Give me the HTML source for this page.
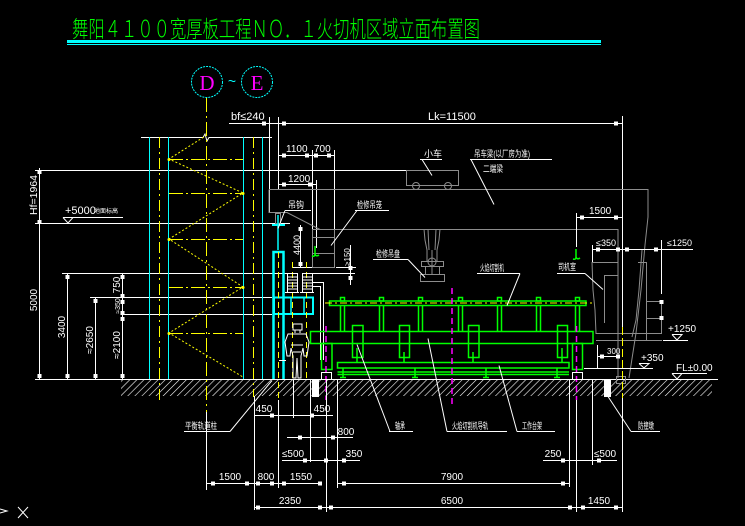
<!DOCTYPE html>
<html><head><meta charset="utf-8"><style>html,body{margin:0;padding:0;background:#000;width:745px;height:526px;overflow:hidden}svg{display:block}</style></head>
<body>
<svg width="745" height="526" viewBox="0 0 745 526" xmlns="http://www.w3.org/2000/svg" font-family="'Liberation Sans','Noto Sans CJK SC',sans-serif">
<defs>
<pattern id="hat" width="5" height="5" patternUnits="userSpaceOnUse" patternTransform="rotate(45)"><line x1="0" y1="0" x2="0" y2="5" stroke="#fff" stroke-width="1.2"/></pattern>
</defs>
<rect width="745" height="526" fill="#000"/>

<!-- Title -->
<text x="72" y="37" fill="#00ff00" font-size="23" font-family="'Liberation Sans','Noto Sans CJK SC',sans-serif" font-weight="300" textLength="408" lengthAdjust="spacingAndGlyphs">舞阳４１００宽厚板工程ＮＯ．１火切机区域立面布置图</text>
<rect x="67" y="40" width="534" height="3" fill="#00ffff"/>
<line x1="67" y1="44.5" x2="601" y2="44.5" stroke="#00ffff" stroke-width="1"/>

<!-- Axis circles -->
<circle cx="207" cy="82" r="15.5" fill="none" stroke="#00ffff" stroke-width="1" stroke-dasharray="2,1"/>
<circle cx="257" cy="82" r="15.5" fill="none" stroke="#00ffff" stroke-width="1" stroke-dasharray="2,1"/>
<text x="207" y="90" fill="#ff00ff" font-size="21" text-anchor="middle" font-family="'Liberation Serif',serif">D</text>
<text x="257" y="90" fill="#ff00ff" font-size="21" text-anchor="middle" font-family="'Liberation Serif',serif">E</text>
<text x="232" y="86" fill="#00ffff" font-size="14" text-anchor="middle">~</text>

<!-- Hatch ground -->
<rect x="121" y="380" width="591" height="16" fill="url(#hat)"/>
<line x1="35" y1="379.5" x2="718" y2="379.5" stroke="#fff"/>
<rect x="312" y="380" width="7" height="17" fill="#fff"/>
<rect x="604" y="380" width="7" height="17" fill="#fff"/>

<!-- Main white horizontals -->
<g stroke="#fff" stroke-width="1" fill="none">
<line x1="35" y1="170.5" x2="407" y2="170.5"/>
<line x1="35" y1="223.5" x2="290" y2="223.5"/>
<line x1="62" y1="273.5" x2="287" y2="273.5"/>
<line x1="312" y1="273.5" x2="355" y2="273.5"/>
<line x1="90" y1="297.5" x2="272" y2="297.5"/>
<line x1="122" y1="314.5" x2="272" y2="314.5"/>
<polyline points="141,137.5 203,137.5 205,134 207,141 209,137.5 272,137.5"/>
<line x1="229" y1="123.5" x2="622" y2="123.5"/>
<line x1="622.5" y1="116" x2="622.5" y2="327"/>
<line x1="269.5" y1="117" x2="269.5" y2="212"/>
<line x1="278.5" y1="117" x2="278.5" y2="190"/>
<line x1="278" y1="155.5" x2="335" y2="155.5"/>
<line x1="312.5" y1="150" x2="312.5" y2="229"/>
<line x1="334.5" y1="150" x2="334.5" y2="229"/>
<line x1="278" y1="184.5" x2="316" y2="184.5"/>
<line x1="316.5" y1="180" x2="316.5" y2="248"/>
<line x1="300.5" y1="225" x2="300.5" y2="267"/>
<line x1="292" y1="267.5" x2="318" y2="267.5"/>
<line x1="350.5" y1="245" x2="350.5" y2="285"/>
<line x1="336" y1="267.5" x2="356" y2="267.5"/>
<!-- left dims -->
<line x1="39.5" y1="168" x2="39.5" y2="379"/>
<line x1="67.5" y1="273" x2="67.5" y2="379"/>
<line x1="95.5" y1="297" x2="95.5" y2="379"/>
<line x1="122.5" y1="273" x2="122.5" y2="379"/>
<line x1="63" y1="217.5" x2="123" y2="217.5"/>
<polyline points="63,217.5 68,223 73,217.5"/>
</g>
<g fill="#fff">
<rect x="37.5" y="170" width="4" height="4"/><rect x="37.5" y="220" width="4" height="4"/><rect x="37.5" y="374" width="4" height="4"/>
<rect x="65.5" y="275" width="4" height="4"/><rect x="65.5" y="374" width="4" height="4"/>
<rect x="93.5" y="299" width="4" height="4"/><rect x="93.5" y="374" width="4" height="4"/>
<rect x="120.5" y="275" width="4" height="4"/><rect x="120.5" y="294" width="4" height="4"/><rect x="120.5" y="300" width="4" height="4"/><rect x="120.5" y="311" width="4" height="4"/><rect x="120.5" y="317" width="4" height="4"/><rect x="120.5" y="374" width="4" height="4"/>
<rect x="262" y="121.5" width="4" height="4"/><rect x="282" y="121.5" width="4" height="4"/><rect x="614" y="121.5" width="4" height="4"/>
<rect x="282" y="153.5" width="4" height="4"/><rect x="305" y="153.5" width="4" height="4"/><rect x="314" y="153.5" width="4" height="4"/><rect x="327" y="153.5" width="4" height="4"/>
<rect x="282" y="182.5" width="4" height="4"/><rect x="308" y="182.5" width="4" height="4"/>
<rect x="298.5" y="227" width="4" height="4"/><rect x="298.5" y="262" width="4" height="4"/>
<rect x="348.5" y="266" width="4" height="4"/><rect x="348.5" y="276" width="4" height="4"/>
</g>
<g fill="#fff" font-size="10">
<text transform="translate(37,195) rotate(-90)" text-anchor="middle" textLength="40" lengthAdjust="spacingAndGlyphs">Hf=1964</text>
<text transform="translate(37,300) rotate(-90)" text-anchor="middle">5000</text>
<text transform="translate(65,327) rotate(-90)" text-anchor="middle">3400</text>
<text transform="translate(93,340) rotate(-90)" text-anchor="middle">≈2650</text>
<text transform="translate(120,285) rotate(-90)" text-anchor="middle">750</text>
<text transform="translate(120,306) rotate(-90)" text-anchor="middle" font-size="7">≈350</text>
<text transform="translate(120,345) rotate(-90)" text-anchor="middle">≈2100</text>
<text transform="translate(300,245) rotate(-90)" text-anchor="middle" font-size="9">4400</text>
<text transform="translate(350,257) rotate(-90)" text-anchor="middle" font-size="8">≥150</text>
<text x="65" y="214" font-size="11">+5000</text>
<text x="94" y="213" font-size="6">地面标高</text>
<text x="231" y="120" font-size="11">bf≤240</text>
<text x="428" y="120" font-size="11">Lk=11500</text>
<text x="286" y="152">1100</text>
<text x="314" y="152">700</text>
<text x="288" y="182">1200</text>
<text x="589" y="214">1500</text>
<text x="596" y="246" font-size="9">≤350</text>
<text x="667" y="246" font-size="9">≤1250</text>
<text x="668" y="332">+1250</text>
<text x="641" y="361">+350</text>
<text x="676" y="371">FL±0.00</text>
<text x="607" y="354" font-size="8">300</text>
</g>

<!-- Building column -->
<g stroke="#00ffff" stroke-width="1">
<line x1="149.5" y1="137" x2="149.5" y2="379"/>
<line x1="168.5" y1="137" x2="168.5" y2="379"/>
<line x1="243.5" y1="137" x2="243.5" y2="379"/>
<line x1="262.5" y1="137" x2="262.5" y2="379"/>
</g>
<g stroke="#ffff00" stroke-width="1" fill="none">
<line x1="159.5" y1="137" x2="159.5" y2="402" stroke-dasharray="11,4,2,4"/>
<line x1="253.5" y1="137" x2="253.5" y2="397" stroke-dasharray="11,4,2,4"/>
<line x1="206.5" y1="98" x2="206.5" y2="412" stroke-dasharray="14,4,2,4"/>
<polyline points="207,135 169,159 243,193 169,239 243,287 169,333 243,377" stroke-dasharray="2,2"/>
<g stroke-dasharray="14,3,2,3">
<line x1="169" y1="159.5" x2="243" y2="159.5"/>
<line x1="169" y1="193.5" x2="243" y2="193.5"/>
<line x1="169" y1="239.5" x2="243" y2="239.5"/>
<line x1="169" y1="287.5" x2="243" y2="287.5"/>
<line x1="169" y1="333.5" x2="243" y2="333.5"/>
</g>
</g>
<g fill="#ffff00"><circle cx="169" cy="159.5" r="1.5"/><circle cx="243" cy="193.5" r="1.5"/><circle cx="169" cy="239.5" r="1.5"/><circle cx="243" cy="287.5" r="1.5"/><circle cx="169" cy="333.5" r="1.5"/></g>

<!-- Crane (gray) -->
<g stroke="#8c8c8c" stroke-width="1" fill="none">
<polyline points="269,189.5 648,189.5 648,217 645,245 641,290 636,333 629,378"/>
<polyline points="642,250 639,290 636,320 632,337"/>
<polyline points="269,189.5 269,212.5 287,212.5 320,229.5 618,229.5 618,378"/>
<rect x="312.5" y="229.5" width="22" height="38"/>
<line x1="312" y1="237.5" x2="335" y2="237.5"/>
<line x1="312" y1="253.5" x2="335" y2="253.5"/>
<rect x="275.5" y="213.5" width="5" height="10"/>
<rect x="406.5" y="170.5" width="52" height="15"/>
<circle cx="416" cy="186" r="3.5"/>
<circle cx="448" cy="186" r="3.5"/>
<polyline points="424,229 425,240 427,250 427,262"/>
<polyline points="440,229 439,240 437,250 437,262"/>
<polyline points="428,229 429,250"/><polyline points="436,229 435,250"/>
<circle cx="432" cy="262" r="4"/>
<line x1="432" y1="250" x2="432" y2="274"/>
<rect x="421.5" y="261.5" width="22" height="5"/>
<rect x="420.5" y="274.5" width="24" height="7"/>
<line x1="425.5" y1="266" x2="425.5" y2="274"/><line x1="439.5" y1="266" x2="439.5" y2="274"/>
<polyline points="592,262.5 618,262.5"/>
<polyline points="592,262 593,290 595,310 596,333.5 618,333.5"/>
<polyline points="604.5,323 604.5,275.5 618,275.5"/>
<line x1="596" y1="333.5" x2="662" y2="333.5"/>
<line x1="596" y1="340.5" x2="662" y2="340.5"/>
<polyline points="638,262.5 646.5,262.5 646.5,340"/>
<line x1="646" y1="301.5" x2="662" y2="301.5"/>
<line x1="646" y1="318.5" x2="662" y2="318.5"/>
<line x1="661.5" y1="301" x2="661.5" y2="334"/>
<rect x="616.5" y="376.5" width="9" height="7"/>
</g>
<g stroke="#fff" stroke-width="1" fill="none">
<line x1="576.5" y1="213" x2="576.5" y2="247"/>
<line x1="576" y1="217.5" x2="622" y2="217.5"/>
<line x1="592.5" y1="245" x2="592.5" y2="262"/>
<line x1="592" y1="249.5" x2="693" y2="249.5"/>
<line x1="661.5" y1="240" x2="661.5" y2="294"/>
<line x1="663" y1="340.5" x2="688" y2="340.5"/>
<polyline points="672,334.5 677,340 682,334.5 672,334.5"/>
<line x1="584" y1="368.5" x2="653" y2="368.5"/>
<polyline points="639,363.5 644,368 649,363.5 639,363.5"/>
<line x1="672" y1="373.5" x2="707" y2="373.5"/>
<polyline points="672,373.5 677,379 682,373.5"/>
<line x1="597.5" y1="345" x2="597.5" y2="368"/>
<line x1="597" y1="356.5" x2="618" y2="356.5"/>
</g>
<g fill="#fff">
<rect x="580" y="215.5" width="4" height="4"/><rect x="614" y="215.5" width="4" height="4"/>
<rect x="596" y="247.5" width="4" height="4"/><rect x="616" y="247.5" width="4" height="4"/><rect x="625" y="247.5" width="4" height="4"/><rect x="654" y="247.5" width="4" height="4"/>
<rect x="600" y="354.5" width="4" height="4"/><rect x="616" y="354.5" width="4" height="4"/>
<rect x="659.5" y="300" width="4" height="4"/><rect x="659.5" y="316" width="4" height="4"/>
</g>
<line x1="622.5" y1="327" x2="622.5" y2="398" stroke="#ffff00" stroke-dasharray="8,3"/>

<!-- Green hooks -->
<g stroke="#00ff00" stroke-width="1.5" fill="none">
<path d="M315,246 v8 q0,3 -3,2 M315,254 q1,3 4,1"/>
<path d="M576,249 v8 q0,3 -3,2 M576,257 q1,3 4,1"/>
</g>

<!-- Lift/cyan structure -->
<g stroke="#00ffff" fill="none">
<line x1="278" y1="215" x2="278" y2="250" stroke-width="1.5"/>
<line x1="272" y1="225" x2="285" y2="225" stroke-width="2"/>
<path d="M273.5,379 V252 H283.5 V379" stroke-width="2.5"/>
<rect x="274" y="297.5" width="39" height="16.5" stroke-width="2"/>
<line x1="291" y1="297" x2="291" y2="314" stroke-width="1.5"/>
<line x1="304" y1="297" x2="304" y2="314" stroke-width="1.5"/>
</g>
<g stroke="#ffff00" fill="none" stroke-dasharray="6,4">
<line x1="278.5" y1="252" x2="278.5" y2="400"/>
<line x1="292.5" y1="262" x2="292.5" y2="378"/>
<line x1="306.5" y1="262" x2="306.5" y2="378"/>
</g>
<g stroke="#fff" fill="none" stroke-width="1">
<rect x="287.5" y="273.5" width="10" height="19"/>
<rect x="302.5" y="273.5" width="10" height="19"/>
<path d="M288,277h9M288,280h9M288,283h9M288,286h9M288,289h9M303,277h9M303,280h9M303,283h9M303,286h9M303,289h9"/>
<path d="M285,292.5h14M300,292.5h14"/>
<polyline points="313,282.5 323.5,282.5 323.5,360"/>
<polyline points="313,286.5 320.5,286.5 320.5,360"/>
<!-- person -->
<path d="M293,324 h9 v6 h-9 z M295,330 v3 M300,330 v3 M288,334 h18 l3,8 l-2,14 h-3 l-1,-8 l-2,8 v22 h-3 l-1,-20 l-1,20 h-3 v-22 l-2,-8 l-1,8 h-3 l-2,-14 z M291,345 h12 M293,352 h8"/>
<line x1="279" y1="360.5" x2="286" y2="360.5"/>
</g>

<!-- Machine (green) -->
<g stroke="#00ff00" stroke-width="1.5" fill="none">
<rect x="329.5" y="301" width="256.5" height="4.5"/>
<g>
<rect x="340.5" y="297.5" width="4" height="3.5"/><rect x="379.5" y="297.5" width="4" height="3.5"/><rect x="418.5" y="297.5" width="4" height="3.5"/><rect x="458.5" y="297.5" width="4" height="3.5"/><rect x="497.5" y="297.5" width="4" height="3.5"/><rect x="536.5" y="297.5" width="4" height="3.5"/><rect x="575.5" y="297.5" width="4" height="3.5"/>
</g>
<path d="M340.5,305v26M344.5,305v26M379.5,305v26M383.5,305v26M418.5,305v26M422.5,305v26M458.5,305v26M462.5,305v26M497.5,305v26M501.5,305v26M536.5,305v26M540.5,305v26M575.5,305v26M579.5,305v26"/>
<rect x="310.5" y="331.5" width="282.5" height="12"/>
<rect x="352.5" y="325.5" width="10.5" height="32"/>
<rect x="399.5" y="325.5" width="10" height="32"/>
<rect x="468.5" y="325.5" width="10.5" height="32"/>
<rect x="557.5" y="325.5" width="10" height="32"/>
<rect x="321.5" y="343.5" width="10.5" height="26"/>
<rect x="572.5" y="343.5" width="10" height="26"/>
<rect x="337.5" y="362.5" width="231.5" height="5.5"/>
<path d="M337.5,372h231.5M337.5,374.5h231.5"/>
<path d="M404,352v10M473,352v10M357,348v14M562,348v14"/>
<path d="M343,368v9M415,368v9M486,368v9M557,368v9"/>
<path d="M340,377.5h6M412,377.5h6M483,377.5h6M554,377.5h6"/>
</g>
<line x1="325" y1="303" x2="593" y2="303" stroke="#ffff00" stroke-width="1" stroke-dasharray="7,3,2,3"/>
<g stroke="#ff00ff" stroke-width="1.5" stroke-dasharray="6,4">
<line x1="326" y1="326" x2="326" y2="400"/>
<line x1="452" y1="288" x2="452" y2="405"/>
<line x1="576.5" y1="326" x2="576.5" y2="400"/>
</g>
<g stroke="#fff" fill="none">
<rect x="321.5" y="372.5" width="10" height="7"/>
<rect x="572.5" y="372.5" width="10" height="7"/>
</g>

<!-- Leader labels -->
<g stroke="#fff" stroke-width="1" fill="none">
<path d="M420,159.5h22M422,159.5l10,16"/>
<path d="M470,159.5h82M471,159.5l23,45"/>
<path d="M355,210.5h34M357,210.5l-26,35"/>
<path d="M285,210.5h26M285,210.5l-7,18"/>
<path d="M373,259.5h35M408,259.5l17,18"/>
<path d="M477,273.5h43M520,273.5l-13,32"/>
<path d="M557,273.5h28M585,273.5l18,16"/>
<path d="M184,431.5h46M230,431.5l42,-51"/>
<path d="M389,431.5h24M390,431.5l-33,-87"/>
<path d="M447,431.5h60M447,431.5l-19,-93"/>
<path d="M517,431.5h38M517,431.5l-18,-66"/>
<path d="M631,431.5h29M631,431.5l-23,-35"/>
</g>
<g fill="#fff" font-size="9" font-family="'Liberation Sans','Noto Sans CJK SC',sans-serif">
<text x="424" y="157">小车</text>
<text x="474" y="157" textLength="56" lengthAdjust="spacingAndGlyphs">吊车梁(以厂房为准)</text>
<text x="483" y="172" textLength="20" lengthAdjust="spacingAndGlyphs">二端梁</text>
<text x="357" y="208" textLength="25" lengthAdjust="spacingAndGlyphs">检修吊笼</text>
<text x="288" y="208" textLength="16" lengthAdjust="spacingAndGlyphs">吊钩</text>
<text x="376" y="257" textLength="24" lengthAdjust="spacingAndGlyphs">检修吊盘</text>
<text x="480" y="271" textLength="24" lengthAdjust="spacingAndGlyphs">火焰切割机</text>
<text x="558" y="270" textLength="18" lengthAdjust="spacingAndGlyphs">司机室</text>
<text x="185" y="429" textLength="32" lengthAdjust="spacingAndGlyphs">平衡轨道柱</text>
<text x="395" y="429" textLength="10" lengthAdjust="spacingAndGlyphs">轴承</text>
<text x="452" y="429" textLength="36" lengthAdjust="spacingAndGlyphs">火焰切割机导轨</text>
<text x="522" y="429" textLength="20" lengthAdjust="spacingAndGlyphs">工作台架</text>
<text x="638" y="429" textLength="16" lengthAdjust="spacingAndGlyphs">防撞墩</text>
</g>

<!-- Bottom dimensions -->
<g stroke="#fff" stroke-width="1" fill="none">
<line x1="206.5" y1="412" x2="206.5" y2="490"/>
<line x1="254.5" y1="396" x2="254.5" y2="510"/>
<line x1="278.5" y1="400" x2="278.5" y2="488"/>
<line x1="293.5" y1="380" x2="293.5" y2="418"/>
<line x1="310.5" y1="380" x2="310.5" y2="462"/>
<line x1="326.5" y1="380" x2="326.5" y2="512"/>
<line x1="337.5" y1="380" x2="337.5" y2="488"/>
<line x1="569.5" y1="380" x2="569.5" y2="487"/>
<line x1="576.5" y1="400" x2="576.5" y2="512"/>
<line x1="592.5" y1="380" x2="592.5" y2="465"/>
<line x1="622.5" y1="398" x2="622.5" y2="512"/>
<line x1="254" y1="415.5" x2="333" y2="415.5"/>
<line x1="287" y1="437.5" x2="353" y2="437.5"/>
<line x1="282" y1="460.5" x2="360" y2="460.5"/>
<line x1="543" y1="460.5" x2="617" y2="460.5"/>
<line x1="206" y1="483.5" x2="322" y2="483.5"/>
<line x1="338" y1="483.5" x2="569" y2="483.5"/>
<line x1="254" y1="507.5" x2="622" y2="507.5"/>
</g>
<g fill="#fff">
<rect x="270" y="413.5" width="4" height="4"/><rect x="310" y="413.5" width="4" height="4"/>
<rect x="298" y="435.5" width="4" height="4"/><rect x="331" y="435.5" width="4" height="4"/>
<rect x="303" y="458.5" width="4" height="4"/><rect x="324" y="458.5" width="4" height="4"/><rect x="342" y="458.5" width="4" height="4"/>
<rect x="561" y="458.5" width="4" height="4"/><rect x="597" y="458.5" width="4" height="4"/>
<rect x="211" y="481.5" width="4" height="4"/><rect x="245" y="481.5" width="4" height="4"/><rect x="256" y="481.5" width="4" height="4"/><rect x="270" y="481.5" width="4" height="4"/><rect x="282" y="481.5" width="4" height="4"/><rect x="318" y="481.5" width="4" height="4"/><rect x="342" y="481.5" width="4" height="4"/><rect x="561" y="481.5" width="4" height="4"/>
<rect x="256" y="505.5" width="4" height="4"/><rect x="318" y="505.5" width="4" height="4"/><rect x="329" y="505.5" width="4" height="4"/><rect x="568" y="505.5" width="4" height="4"/><rect x="581" y="505.5" width="4" height="4"/><rect x="614" y="505.5" width="4" height="4"/>
</g>
<g fill="#fff" font-size="10" text-anchor="middle">
<text x="264" y="412">450</text>
<text x="322" y="412">450</text>
<text x="346" y="435">800</text>
<text x="293" y="457">≤500</text>
<text x="354" y="457">350</text>
<text x="553" y="457">250</text>
<text x="605" y="457">≤500</text>
<text x="230" y="480">1500</text>
<text x="266" y="480">800</text>
<text x="301" y="480">1550</text>
<text x="452" y="480">7900</text>
<text x="290" y="504">2350</text>
<text x="452" y="504">6500</text>
<text x="599" y="504">1450</text>
</g>

<!-- UCS icon -->
<g stroke="#fff" fill="none" stroke-width="1">
<path d="M0,509 l7,2 l-7,2"/>
<path d="M18,507 l10,11 M28,507 l-10,11"/>
</g>
</svg>
</body></html>
